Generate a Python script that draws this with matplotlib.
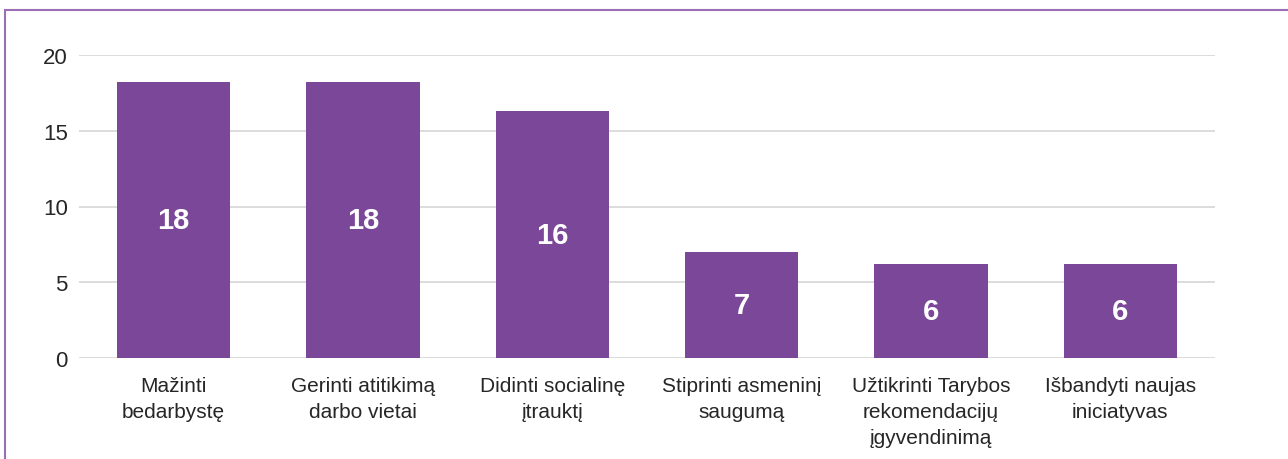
import matplotlib
matplotlib.use("Agg")
import matplotlib.pyplot as plt
from matplotlib.patches import Rectangle

categories = ["Mažinti\nbedarbystę", "Gerinti atitikimą\ndarbo vietai", "Didinti socialinę\nįtrauktį",
              "Stiprinti asmeninį\nsaugumą", "Užtikrinti Tarybos\nrekomendacijų\nįgyvendinimą",
              "Išbandyti naujas\niniciatyvas"]
values = [18.2, 18.2, 16.3, 7.0, 6.2, 6.2]
value_labels = ["18", "18", "16", "7", "6", "6"]
yticks = [0, 5, 10, 15, 20]

plt.rcParams['font.family'] = ['Liberation Sans Narrow', 'Liberation Sans', 'DejaVu Sans']

W, H = 1288, 460
fig = plt.figure(figsize=(W / 100, H / 100), dpi=100)
ax = fig.add_axes([79 / W, 1 - 359 / H, (1215 - 79) / W, (359 - 56) / H])

bar_color = "#7B4899"
x = list(range(len(categories)))
bars = ax.bar(x, values, width=0.6, color=bar_color, zorder=3)
for b, v, lab in zip(bars, values, value_labels):
    ax.text(b.get_x() + b.get_width() / 2, v / 2, lab, ha='center', va='center',
            color='white', fontsize=21, fontweight='bold', zorder=4)

ax.set_xlim(-0.5, len(categories) - 0.5)
ax.set_ylim(0, 20)
ax.set_yticks(yticks)
ax.yaxis.grid(True, color='#d9d9d9', linewidth=1.3, zorder=0)
ax.set_axisbelow(True)
for s in ax.spines.values():
    s.set_visible(False)
ax.tick_params(axis='both', length=0, colors='#262626')
ax.tick_params(axis='y', pad=8, labelsize=16)
ax.tick_params(axis='x', pad=13, labelsize=15)
ax.set_xticks(x)
ax.set_xticklabels(categories, linespacing=1.45)

# figure frame
fig.patches.append(Rectangle((5 / W, -0.1), 1.2, 1 - 11 / H + 0.1, transform=fig.transFigure,
                             fill=False, edgecolor='#9a6fb6', linewidth=1.5))

fig.savefig("out.png", dpi=100)
